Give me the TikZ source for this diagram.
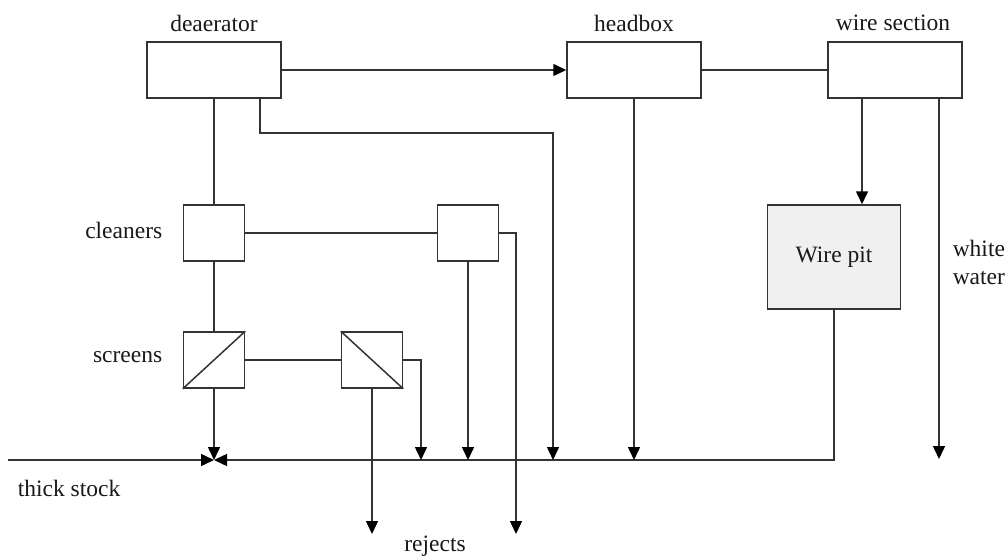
\documentclass[tikz,border=0pt]{standalone}
\usepackage{fontspec}
\setmainfont{Liberation Serif}
\usetikzlibrary{arrows.meta}
\begin{document}
\begin{tikzpicture}[x=1pt,y=-1pt,
  line width=1.5pt,
  every node/.style={font=\fontsize{23.5}{28}\selectfont, text=black!90},
  unit/.style={draw=black!80, fill=white, inner sep=0pt,
    minimum width=134pt, minimum height=56pt},
  cell/.style={draw=black!80, fill=white, inner sep=0pt,
    minimum width=61pt, minimum height=56pt},
  pit/.style={draw=black!80, fill=black!6, inner sep=0pt,
    minimum width=133pt, minimum height=104pt},
  pipe/.style={draw=black!80},
  flow/.style={draw=black!80, -{Triangle[length=13pt,width=12pt,color=black]}},
  caption/.style={inner sep=0pt}
]
\useasboundingbox (0,0) rectangle (1008,559);

% main machine units
\node[unit] (dea) at (214,70) {};
\node[unit] (head) at (634,70) {};
\node[unit] (wire) at (895,70) {};
\node[caption] at (214,23) {deaerator};
\node[caption] at (634,23) {headbox};
\node[caption] at (893,23) {wire section};

% cleaners and screens
\node[cell] (cl1) at (214,233) {};
\node[cell] (cl2) at (468,233) {};
\node[cell] (sc1) at (214,360) {};
\node[cell] (sc2) at (372,360) {};
\draw[black!80] (sc1.south west) -- (sc1.north east);
\draw[black!80] (sc2.north west) -- (sc2.south east);
\node[caption, anchor=east] at (163,230) {cleaners};
\node[caption, anchor=east] at (163,357) {screens};

% wire pit
\node[pit] (pit) at (834,257) {Wire pit};
\node[caption, anchor=west, align=left] at (952,262) {white\\water};

% junction points on the white-water return line
\coordinate (j0) at (214,460);
\coordinate (jsc) at (421,460);
\coordinate (jcl) at (468,460);
\coordinate (jdea) at (553,460);
\coordinate (jhead) at (634,460);
\coordinate (ts) at (8,460);
\coordinate (ww) at (939,459);
\coordinate (dbend) at (260,133);
\coordinate (rej1) at (372,534);
\coordinate (rej2) at (516,534);
\coordinate (cbend) at (516,233);
\coordinate (sbend) at (421,360);

% stock flow
\draw[flow] (dea.east) -- (head.west);
\draw[pipe] (head.east) -- (wire.west);
\draw[pipe] (dea.south) -- (cl1.north);
\draw[pipe] (cl1.south) -- (sc1.north);
\draw[pipe] (cl1.east) -- (cl2.west);
\draw[pipe] (sc1.east) -- (sc2.west);
\draw[flow] (wire.south -| 862,0) -- (pit.north -| 862,0);
\draw[flow] (wire.south -| ww) -- (ww);

% return line and feeds into it
\draw[flow] (pit.south) |- (j0);
\draw[flow] (ts) -- (j0);
\draw[flow] (sc1.south) -- (j0);
\draw[flow] (dea.south -| dbend) -- (dbend) -| (jdea);
\draw[flow] (head.south) -- (jhead);
\draw[flow] (cl2.south) -- (jcl);
\draw[flow] (sc2.east) -- (sbend) -- (jsc);

% rejects
\draw[flow] (sc2.south) -- (rej1);
\draw[flow] (cl2.east) -- (cbend) -- (rej2);

\node[caption] at (69,488) {thick stock};
\node[caption] at (435,546) {rejects};
\end{tikzpicture}
\end{document}
